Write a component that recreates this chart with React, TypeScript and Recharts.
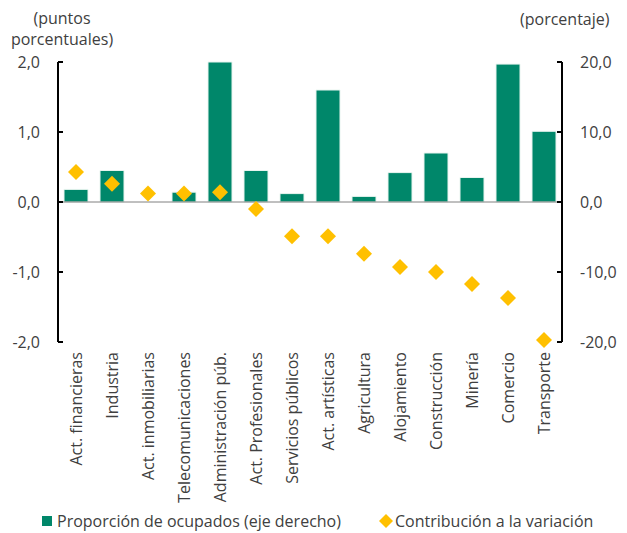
import React from 'react';
import {
    ComposedChart, Bar, Line, XAxis, YAxis, ReferenceLine, Legend
} from 'recharts';

const CATEGORIES = [
    'Act. financieras', 'Industria', 'Act. inmobiliarias', 'Telecomunicaciones',
    'Administración púb.', 'Act. Profesionales', 'Servicios públicos', 'Act. artísticas',
    'Agricultura', 'Alojamiento', 'Construcción', 'Minería', 'Comercio', 'Transporte'
];
// proporción de ocupados (%), eje derecho
const PROPORCION = [1.8, 4.5, 0, 1.4, 20.0, 4.5, 1.2, 16.0, 0.8, 4.2, 7.0, 3.5, 19.7, 10.1];
// contribución a la variación (pp), eje izquierdo
const CONTRIBUCION = [0.43, 0.26, 0.12, 0.12, 0.14, -0.10, -0.49, -0.49, -0.74, -0.93, -1.0, -1.17, -1.37, -1.97];
const LEFT_TICKS = [-2, -1, 0, 1, 2];
const RIGHT_TICKS = [-20, -10, 0, 10, 20];

const GREEN = '#00876A';
const GOLD = '#FFC000';
const TEXT = '#404040';
const FONT = '"Open Sans", sans-serif';

const data = CATEGORIES.map((name, i) => ({
    name,
    proporcion: PROPORCION[i],
    contribucion: CONTRIBUCION[i],
}));

const fmt = (v: number) => v.toFixed(1).replace('.', ',');

const CategoryTick = ({ x, y, payload }: any) => (
    <g transform={`translate(${x},${y})`}>
        <text x={0} y={0} dy="0.35em" textAnchor="end" transform="rotate(-90)"
            fontSize={16} fill={TEXT} fontFamily={FONT}>
            {payload.value}
        </text>
    </g>
);

const Diamond = (props: any) => {
    const { cx, cy, index } = props;
    if (cx == null || cy == null) return null;
    const r = 8;
    return (
        <polygon key={`d-${index}`}
            points={`${cx},${cy - r} ${cx + r},${cy} ${cx},${cy + r} ${cx - r},${cy}`}
            fill={GOLD} />
    );
};

const LegendContent = () => (
    <div style={{ position: 'relative', width: 627, height: 20, fontFamily: FONT, fontSize: 16, color: TEXT, lineHeight: '20px' }}>
        <div style={{ position: 'absolute', left: 42, top: -2, display: 'flex', alignItems: 'center' }}>
            <span style={{ display: 'inline-block', width: 10, height: 10, background: GREEN, marginRight: 5 }} />
            <span>Proporción de ocupados (eje derecho)</span>
        </div>
        <div style={{ position: 'absolute', left: 379, top: -2, display: 'flex', alignItems: 'center' }}>
            <svg width={14} height={14} style={{ marginRight: 2 }}>
                <polygon points="7,0 14,7 7,14 0,7" fill={GOLD} />
            </svg>
            <span>Contribución a la variación</span>
        </div>
    </div>
);

export default function App() {
    return (
        <div style={{ position: 'absolute', left: 0, top: 0, width: 627, height: 533, background: '#fff', overflow: 'hidden', fontFamily: FONT }}>
            <div style={{ position: 'absolute', left: 0, width: 124, top: 8, textAlign: 'center', fontSize: 16, lineHeight: '21px', color: TEXT }}>
                (puntos<br />porcentuales)
            </div>
            <div style={{ position: 'absolute', left: 520, top: 8, fontSize: 16, lineHeight: '22px', color: TEXT }}>
                (porcentaje)
            </div>
            <ComposedChart width={627} height={533} data={data}
                margin={{ top: 62, right: 0, left: 0, bottom: 0 }}>
                <XAxis dataKey="name" interval={0} axisLine={false} tickLine={false}
                    tickSize={0} tickMargin={10} height={171} tick={<CategoryTick />} />
                <YAxis yAxisId="left" orientation="left" width={58} domain={[-2, 2]} ticks={LEFT_TICKS}
                    tickFormatter={fmt} axisLine={{ stroke: '#000', strokeWidth: 2 }}
                    tickLine={{ stroke: '#000', strokeWidth: 2 }} tickSize={-5} tickMargin={23}
                    tick={{ fontSize: 16, fill: TEXT, fontFamily: FONT }} />
                <YAxis yAxisId="right" orientation="right" width={65} domain={[-20, 20]} ticks={RIGHT_TICKS}
                    tickFormatter={fmt} axisLine={{ stroke: '#000', strokeWidth: 2 }}
                    tickLine={{ stroke: '#000', strokeWidth: 2 }} tickSize={-5} tickMargin={23}
                    tick={{ fontSize: 16, fill: TEXT, fontFamily: FONT }} />
                <ReferenceLine yAxisId="left" y={0} stroke="#808080" strokeWidth={1} />
                <Bar yAxisId="right" dataKey="proporcion" name="Proporción de ocupados (eje derecho)"
                    fill={GREEN} stroke="#e8f4ef" strokeWidth={1} barSize={24} isAnimationActive={false} />
                <Line yAxisId="left" dataKey="contribucion" name="Contribución a la variación"
                    stroke="none" dot={Diamond} activeDot={false} legendType="diamond" isAnimationActive={false} />
                <Legend verticalAlign="bottom" height={20} content={<LegendContent />} />
            </ComposedChart>
        </div>
    );
}
